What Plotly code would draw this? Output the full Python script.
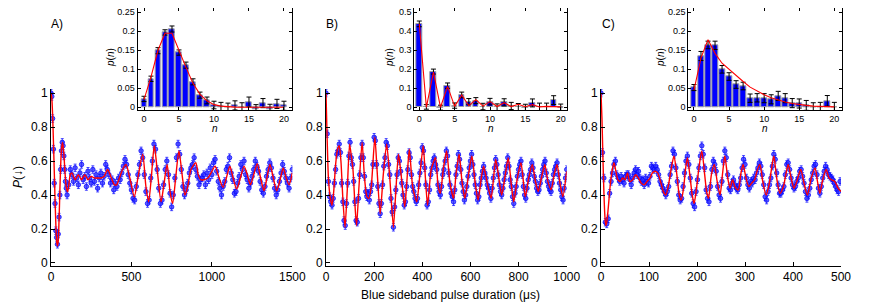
import plotly.graph_objects as go

# ---------------- data: main panels ----------------
t_a = list(range(0, 101, 5)) + list(range(110, 1501, 10))
p_a = [1.00, 0.98, 0.85, 0.67, 0.47, 0.35, 0.19, 0.15, 0.11, 0.17, 0.27, 0.40, 0.55, 0.66, 0.71, 0.69, 0.63, 0.55, 0.48, 0.44, 0.40,
       0.46, 0.55, 0.52, 0.48, 0.56, 0.50, 0.46, 0.53, 0.58, 0.49,
       0.51, 0.45, 0.54, 0.50, 0.47, 0.55, 0.48, 0.52, 0.44, 0.50,
       0.53, 0.47, 0.51, 0.58, 0.55, 0.52, 0.47, 0.49, 0.43, 0.47,
       0.45, 0.50, 0.49, 0.53, 0.57, 0.61, 0.58, 0.52, 0.47, 0.43,
       0.38, 0.37, 0.45, 0.52, 0.58, 0.66, 0.62, 0.52, 0.42, 0.35,
       0.37, 0.50, 0.60, 0.70, 0.67, 0.55, 0.44, 0.35, 0.37, 0.46,
       0.55, 0.60, 0.52, 0.41, 0.33, 0.40, 0.50, 0.62, 0.70, 0.64,
       0.55, 0.45, 0.40, 0.43, 0.47, 0.53, 0.56, 0.58, 0.62, 0.55,
       0.51, 0.46, 0.49, 0.50, 0.52, 0.46, 0.53, 0.49, 0.56, 0.52,
       0.59, 0.61, 0.54, 0.48, 0.44, 0.40, 0.45, 0.48, 0.55, 0.57,
       0.62, 0.53, 0.49, 0.41, 0.42, 0.47, 0.51, 0.58, 0.55, 0.60,
       0.52, 0.49, 0.44, 0.47, 0.51, 0.55, 0.60, 0.57, 0.54, 0.48,
       0.43, 0.41, 0.45, 0.51, 0.55, 0.59, 0.56, 0.50, 0.44, 0.40,
       0.43, 0.48, 0.53, 0.58, 0.54, 0.50, 0.47, 0.44, 0.50, 0.55]
fit_a_t = [0, 5, 10, 15, 20, 25, 30, 35, 40, 45, 50, 55, 60, 65, 72, 80, 88, 96, 104, 112,
           120, 130, 150, 170, 190, 210, 230, 250, 270, 290, 310, 330, 352, 375, 395, 408, 425, 445, 466, 490,
           518, 540, 570, 590, 607, 625, 642, 660, 684, 700, 722, 740, 756, 775, 795, 815, 833, 850, 870, 900,
           915, 930, 950, 975, 995, 1020, 1045, 1070, 1090, 1112, 1132, 1154, 1177, 1200, 1220, 1240, 1260, 1282, 1303, 1324,
           1342, 1361, 1382, 1403, 1424, 1444, 1462, 1480, 1500]
fit_a_v = [1.0, 0.97, 0.87, 0.72, 0.55, 0.38, 0.23, 0.13, 0.10, 0.13, 0.25, 0.42, 0.57, 0.67, 0.71, 0.64, 0.52, 0.44, 0.42, 0.47,
           0.52, 0.53, 0.49, 0.52, 0.49, 0.52, 0.49, 0.51, 0.50, 0.50, 0.50, 0.51, 0.55, 0.50, 0.46, 0.46, 0.50, 0.55, 0.58, 0.50,
           0.39, 0.50, 0.64, 0.45, 0.36, 0.52, 0.69, 0.55, 0.36, 0.45, 0.58, 0.42, 0.35, 0.50, 0.66, 0.52, 0.40, 0.45, 0.55, 0.59,
           0.52, 0.49, 0.49, 0.50, 0.53, 0.57, 0.50, 0.445, 0.50, 0.57, 0.50, 0.435, 0.50, 0.57, 0.52, 0.46, 0.52, 0.585, 0.50, 0.425,
           0.50, 0.58, 0.50, 0.425, 0.49, 0.56, 0.50, 0.46, 0.53]

t_b = list(range(0, 1001, 5))
p_b = [1.00, 0.76, 0.48, 0.39, 0.36, 0.34, 0.38, 0.47, 0.55, 0.64,
       0.66, 0.70, 0.65, 0.47, 0.36, 0.25, 0.22, 0.35, 0.47, 0.63,
       0.71, 0.62, 0.58, 0.48, 0.36, 0.25, 0.24, 0.38, 0.52, 0.62,
       0.70, 0.62, 0.51, 0.42, 0.39, 0.41, 0.37, 0.42, 0.46, 0.58,
       0.74, 0.72, 0.58, 0.45, 0.35, 0.29, 0.35, 0.46, 0.57, 0.62,
       0.71, 0.69, 0.58, 0.52, 0.38, 0.30, 0.21, 0.33, 0.43, 0.52,
       0.62, 0.60, 0.54, 0.47, 0.40, 0.34, 0.36, 0.45, 0.55, 0.65,
       0.62, 0.52, 0.45, 0.42, 0.38, 0.36, 0.38, 0.46, 0.53, 0.59,
       0.68, 0.66, 0.56, 0.46, 0.34, 0.36, 0.43, 0.52, 0.56, 0.60,
       0.62, 0.58, 0.55, 0.46, 0.42, 0.40, 0.45, 0.52, 0.55, 0.60,
       0.66, 0.63, 0.53, 0.46, 0.41, 0.39, 0.36, 0.43, 0.52, 0.57,
       0.64, 0.61, 0.55, 0.47, 0.42, 0.37, 0.40, 0.45, 0.51, 0.56,
       0.60, 0.64, 0.58, 0.52, 0.46, 0.41, 0.37, 0.39, 0.46, 0.50,
       0.54, 0.57, 0.53, 0.50, 0.46, 0.44, 0.41, 0.38, 0.44, 0.50,
       0.56, 0.61, 0.58, 0.52, 0.46, 0.42, 0.40, 0.44, 0.49, 0.53,
       0.57, 0.62, 0.57, 0.49, 0.45, 0.39, 0.35, 0.41, 0.45, 0.51,
       0.55, 0.58, 0.60, 0.52, 0.45, 0.40, 0.38, 0.44, 0.49, 0.52,
       0.55, 0.59, 0.56, 0.51, 0.48, 0.44, 0.42, 0.43, 0.47, 0.51,
       0.55, 0.58, 0.60, 0.53, 0.48, 0.45, 0.43, 0.42, 0.47, 0.52,
       0.55, 0.57, 0.59, 0.52, 0.47, 0.43, 0.39, 0.37, 0.44, 0.50,
       0.55]
fit_b_t = [0, 5, 10, 18, 25, 32, 40, 48, 55, 62, 70, 79, 88, 98, 106, 112, 120, 127, 137, 150,
           160, 170, 178, 188, 203, 212, 225, 238, 252, 265, 280, 290, 301, 312, 327, 336, 346, 360, 377, 390,
           404, 413, 422, 437, 455, 466, 475, 488, 501, 515, 530, 540, 553, 565, 577, 592, 606, 620, 632, 645,
           655, 670, 686, 705, 718, 730, 745, 757, 770, 780, 795, 810, 828, 842, 857, 870, 882, 895, 909, 922,
           935, 948, 960, 972, 984, 1000]
fit_b_v = [1.0, 0.72, 0.50, 0.38, 0.34, 0.42, 0.58, 0.67, 0.69, 0.60, 0.38, 0.21, 0.42, 0.70, 0.62, 0.55, 0.35, 0.22, 0.45, 0.71,
           0.50, 0.39, 0.38, 0.45, 0.74, 0.55, 0.29, 0.52, 0.70, 0.50, 0.21, 0.42, 0.64, 0.52, 0.33, 0.48, 0.67, 0.45, 0.36, 0.52,
           0.69, 0.50, 0.34, 0.55, 0.62, 0.45, 0.41, 0.56, 0.66, 0.47, 0.38, 0.52, 0.64, 0.48, 0.38, 0.52, 0.63, 0.47, 0.37, 0.50,
           0.57, 0.47, 0.38, 0.61, 0.50, 0.40, 0.52, 0.62, 0.46, 0.36, 0.50, 0.59, 0.39, 0.50, 0.58, 0.48, 0.42, 0.50, 0.58, 0.48,
           0.43, 0.52, 0.58, 0.47, 0.39, 0.54]

t_c = list(range(0, 499, 3))
p_c = [1.00, 0.65, 0.50, 0.24, 0.23, 0.26, 0.41, 0.48, 0.53, 0.58,
       0.60, 0.52, 0.50, 0.48, 0.51, 0.49, 0.47, 0.51, 0.52, 0.52,
       0.49, 0.46, 0.50, 0.53, 0.55, 0.52, 0.54, 0.50, 0.48, 0.49,
       0.46, 0.50, 0.48, 0.47, 0.51, 0.57, 0.56, 0.55, 0.57, 0.55,
       0.52, 0.48, 0.46, 0.44, 0.42, 0.40, 0.42, 0.45, 0.52, 0.57,
       0.66, 0.64, 0.56, 0.48, 0.40, 0.37, 0.38, 0.45, 0.53, 0.60,
       0.63, 0.58, 0.50, 0.41, 0.35, 0.33, 0.42, 0.49, 0.56, 0.63,
       0.69, 0.64, 0.56, 0.43, 0.38, 0.36, 0.45, 0.55, 0.60, 0.58,
       0.54, 0.45, 0.40, 0.38, 0.48, 0.60, 0.66, 0.62, 0.52, 0.44,
       0.43, 0.47, 0.49, 0.46, 0.44, 0.43, 0.46, 0.50, 0.56, 0.61,
       0.58, 0.50, 0.46, 0.44, 0.48, 0.47, 0.50, 0.49, 0.53, 0.56,
       0.59, 0.57, 0.52, 0.46, 0.39, 0.37, 0.42, 0.46, 0.50, 0.57,
       0.64, 0.61, 0.53, 0.46, 0.41, 0.41, 0.43, 0.45, 0.52, 0.58,
       0.59, 0.55, 0.50, 0.46, 0.44, 0.45, 0.48, 0.50, 0.54, 0.55,
       0.51, 0.47, 0.42, 0.38, 0.40, 0.44, 0.49, 0.53, 0.57, 0.58,
       0.52, 0.44, 0.41, 0.45, 0.50, 0.54, 0.57, 0.55, 0.52, 0.51,
       0.50, 0.49, 0.47, 0.45, 0.43, 0.42, 0.48]
fit_c_t = [0, 2, 4, 6, 8, 10, 12, 15, 19, 23, 27, 31, 35, 40, 45, 50, 55, 60, 66, 72,
           78, 84, 90, 96, 102, 107, 112, 118, 124, 130, 135, 140, 146, 152, 158, 163, 167, 172, 176, 180,
           185, 190, 194, 199, 204, 210, 216, 220, 224, 230, 236, 242, 248, 253, 258, 264, 269, 274, 279, 286,
           291, 296, 302, 308, 314, 320, 326, 331, 337, 344, 350, 355, 360, 366, 373, 380, 385, 390, 396, 402,
           408, 416, 423, 430, 438, 446, 451, 456, 462, 469, 475, 480, 487, 494, 500]
fit_c_v = [1.0, 0.85, 0.62, 0.42, 0.28, 0.22, 0.24, 0.32, 0.45, 0.54, 0.59, 0.54, 0.49, 0.48, 0.50, 0.49, 0.53, 0.48, 0.49, 0.52,
           0.50, 0.47, 0.46, 0.48, 0.50, 0.53, 0.54, 0.53, 0.48, 0.42, 0.40, 0.45, 0.55, 0.63, 0.52, 0.40, 0.37, 0.44, 0.55, 0.62,
           0.52, 0.40, 0.35, 0.44, 0.56, 0.66, 0.52, 0.42, 0.38, 0.52, 0.58, 0.48, 0.40, 0.52, 0.63, 0.50, 0.44, 0.49, 0.45, 0.43,
           0.52, 0.58, 0.50, 0.45, 0.47, 0.49, 0.55, 0.58, 0.48, 0.40, 0.46, 0.55, 0.63, 0.50, 0.41, 0.45, 0.52, 0.58, 0.50, 0.44,
           0.48, 0.55, 0.47, 0.40, 0.50, 0.56, 0.48, 0.41, 0.49, 0.55, 0.50, 0.49, 0.48, 0.44, 0.42]
err_main = 0.022

# ---------------- data: insets p(n) ----------------
n_vals = list(range(21))
pa_n = [0.022, 0.075, 0.149, 0.197, 0.206, 0.144, 0.111, 0.067, 0.032, 0.018, 0.006,
        0.002, 0.0, 0.005, 0.0, 0.014, -0.005, 0.011, -0.004, 0.009, 0.004]
pa_err = [0.007, 0.007, 0.008, 0.007, 0.008, 0.007, 0.008, 0.008, 0.008, 0.009, 0.010,
          0.011, 0.011, 0.012, 0.012, 0.013, 0.012, 0.012, 0.012, 0.012, 0.012]
pa_fit = [0.02, 0.08, 0.15, 0.195, 0.195, 0.148, 0.105, 0.063, 0.034, 0.017, 0.007,
          0.003, 0.001, 0.0005, 0.0, 0.0, 0.0, 0.0, 0.0, 0.0, 0.0]
pb_n = [0.439, 0.002, 0.188, -0.002, 0.114, 0.009, 0.065, 0.030, 0.035, 0.004, 0.030,
        0.0, 0.026, 0.007, 0.0, -0.004, 0.023, 0.0, 0.0, 0.038, -0.006]
pb_err = [0.015, 0.012, 0.013, 0.013, 0.014, 0.014, 0.015, 0.016, 0.016, 0.017, 0.017,
          0.018, 0.019, 0.019, 0.020, 0.020, 0.021, 0.022, 0.022, 0.023, 0.023]
pb_fit = [0.44, 0.0, 0.185, 0.0, 0.11, 0.005, 0.065, 0.008, 0.04, 0.006, 0.03,
          0.004, 0.024, 0.004, 0.016, 0.003, 0.014, 0.002, 0.005, 0.002, 0.002]
pc_n = [0.052, 0.135, 0.164, 0.163, 0.100, 0.081, 0.060, 0.056, 0.024, 0.025, 0.024,
        0.021, 0.030, 0.024, 0.011, 0.010, 0.005, -0.001, 0.0, 0.017, 0.0]
pc_err = [0.008, 0.012, 0.010, 0.011, 0.010, 0.010, 0.010, 0.010, 0.011, 0.011, 0.012,
          0.012, 0.012, 0.012, 0.012, 0.012, 0.013, 0.013, 0.013, 0.014, 0.013]
pc_fit = [0.045, 0.13, 0.178, 0.142, 0.116, 0.10, 0.082, 0.068, 0.053, 0.042, 0.033,
          0.025, 0.019, 0.014, 0.010, 0.007, 0.005, 0.003, 0.002, 0.001, 0.001]

main_xticks = [[0, 500, 1000, 1500], [0, 200, 400, 600, 800, 1000], [0, 100, 200, 300, 400, 500]]
main_yticks = [0, 0.2, 0.4, 0.6, 0.8, 1]
main_ytext = ['0', '0.2', '0.4', '0.6', '0.8', '1']
inset_yticks_a = [0, 0.05, 0.1, 0.15, 0.2, 0.25]
inset_ytext_a = ['0', '0.05', '0.1', '0.15', '0.2', '0.25']
inset_yticks_b = [0, 0.1, 0.2, 0.3, 0.4, 0.5]
inset_ytext_b = ['0', '0.1', '0.2', '0.3', '0.4', '0.5']
panel_labels = ['A)', 'B)', 'C)']

# ---------------- figure ----------------
# the page body has an 8px margin, so the figure is drawn 8px in from the window corner
OFF = 8
W, H = 872 - OFF, 308 - OFF
FONT = 'Liberation Sans, Arial, sans-serif'
BLUE = 'rgb(0,0,255)'
RED = 'rgb(255,0,0)'


def px(x):
    return (x - OFF) / W


def py(y):
    return 1 - (y - OFF) / H


fig = go.Figure()

mains = [(t_a, p_a, fit_a_t, fit_a_v, '', 0.7),
         (t_b, p_b, fit_b_t, fit_b_v, '2', 0.6),
         (t_c, p_c, fit_c_t, fit_c_v, '3', 0.7)]
for t, p, ft, fv, k, sm in mains:
    fig.add_trace(go.Scatter(
        x=t, y=p, mode='markers', xaxis='x' + k, yaxis='y' + k,
        marker=dict(symbol='circle', size=4.5, color='rgba(40,40,255,0.75)',
                    line=dict(color='rgba(0,0,255,0.9)', width=0.8)),
        error_y=dict(type='constant', value=err_main, color='rgba(0,0,255,0.7)',
                     thickness=1, width=1.5),
        hoverinfo='skip'))
    fig.add_trace(go.Scatter(
        x=ft, y=fv, mode='lines', xaxis='x' + k, yaxis='y' + k,
        line=dict(color=RED, width=1.4, shape='spline', smoothing=sm),
        hoverinfo='skip'))

insets = [(pa_n, pa_err, pa_fit, '4'), (pb_n, pb_err, pb_fit, '5'), (pc_n, pc_err, pc_fit, '6')]
for vals, errs, fit, k in insets:
    fig.add_trace(go.Bar(
        x=n_vals, y=vals, xaxis='x' + k, yaxis='y' + k, width=0.8,
        marker=dict(color=BLUE, line=dict(color='rgb(160,160,160)', width=1)),
        error_y=dict(type='data', array=errs, color='black', thickness=1, width=2.5),
        hoverinfo='skip'))
    fig.add_trace(go.Scatter(
        x=n_vals, y=fit, mode='lines', xaxis='x' + k, yaxis='y' + k,
        line=dict(color=RED, width=1.1), hoverinfo='skip'))

main_common = dict(showline=True, linecolor='black', linewidth=1, ticks='inside', ticklen=4,
                   tickcolor='black', showgrid=False, zeroline=False, automargin=False,
                   ticklabeloverflow='allow',
                   tickfont=dict(family=FONT, size=12, color='black'))
inset_common = dict(showline=True, linecolor='black', linewidth=1, mirror='ticks', ticks='inside',
                    ticklen=3, tickcolor='black', showgrid=False, zeroline=False, automargin=False,
                    ticklabeloverflow='allow',
                    tickfont=dict(family=FONT, size=9, color='black'))

main_x = [(51, 292.3, [0, 1500]), (326, 566.7, [0, 1000]), (601, 841, [0, 500])]
ydom = [py(265.7), py(89)]
lay = {}
for i, (x0, x1, rng) in enumerate(main_x):
    k = '' if i == 0 else str(i + 1)
    lay['xaxis' + k] = dict(domain=[px(x0), px(x1)], range=rng, anchor='y' + k,
                            tickvals=main_xticks[i], **main_common)
    lay['yaxis' + k] = dict(domain=ydom, range=[-0.016, 1.024], anchor='x' + k,
                            tickvals=main_yticks, ticktext=main_ytext, **main_common)

inset_geo = [(137.7, 292.3, 8.3, 110, [-0.9, 21.19], [-0.0071, 0.2605], inset_yticks_a, inset_ytext_a),
             (414.3, 567.3, 8.0, 110, [-0.707, 20.93], [-0.0142, 0.5225], inset_yticks_b, inset_ytext_b),
             (688.3, 841.7, 8.3, 110, [-0.81, 21.05], [-0.0071, 0.2605], inset_yticks_a, inset_ytext_a)]
for j, (x0, x1, y0, y1, xr, yr, yt, ytt) in enumerate(inset_geo):
    k = str(j + 4)
    lay['xaxis' + k] = dict(domain=[px(x0), px(x1)], range=xr, anchor='y' + k,
                            tickvals=[0, 5, 10, 15, 20], **inset_common)
    lay['yaxis' + k] = dict(domain=[py(y1), min(1.0, py(y0))], range=yr, anchor='x' + k,
                            tickvals=yt, ticktext=ytt, **inset_common)

annotations = []
for lab, x in zip(panel_labels, [57, 332, 608]):
    annotations.append(dict(text=lab, x=px(x), y=py(24), xref='paper', yref='paper',
                            showarrow=False, font=dict(family=FONT, size=12, color='black'),
                            xanchor='center', yanchor='middle'))
for cx, lx in [(215, 111), (490.8, 390), (765, 661)]:
    annotations.append(dict(text='<i>n</i>', x=px(cx), y=py(128), xref='paper', yref='paper',
                            showarrow=False, font=dict(family=FONT, size=10, color='black'),
                            xanchor='center', yanchor='middle'))
    annotations.append(dict(text='<i>p</i>(<i>n</i>)', x=px(lx), y=py(58), xref='paper', yref='paper',
                            showarrow=False, textangle=-90, font=dict(family=FONT, size=10, color='black'),
                            xanchor='center', yanchor='middle'))
annotations.append(dict(text='<i>P</i>(\u2193)', x=px(18), y=py(177), xref='paper', yref='paper',
                        showarrow=False, textangle=-90, font=dict(family=FONT, size=12, color='black'),
                        xanchor='center', yanchor='middle'))
annotations.append(dict(text='Blue sideband pulse duration (\u03bcs)', x=px(450), y=py(295),
                        xref='paper', yref='paper', showarrow=False,
                        font=dict(family=FONT, size=12, color='black'),
                        xanchor='center', yanchor='middle'))

fig.update_layout(width=W, height=H, margin=dict(l=0, r=0, t=0, b=0, autoexpand=False),
                  paper_bgcolor='white', plot_bgcolor='white', showlegend=False,
                  font=dict(family=FONT, color='black'), annotations=annotations,
                  bargap=0, **lay)

fig.write_html('out.html')
